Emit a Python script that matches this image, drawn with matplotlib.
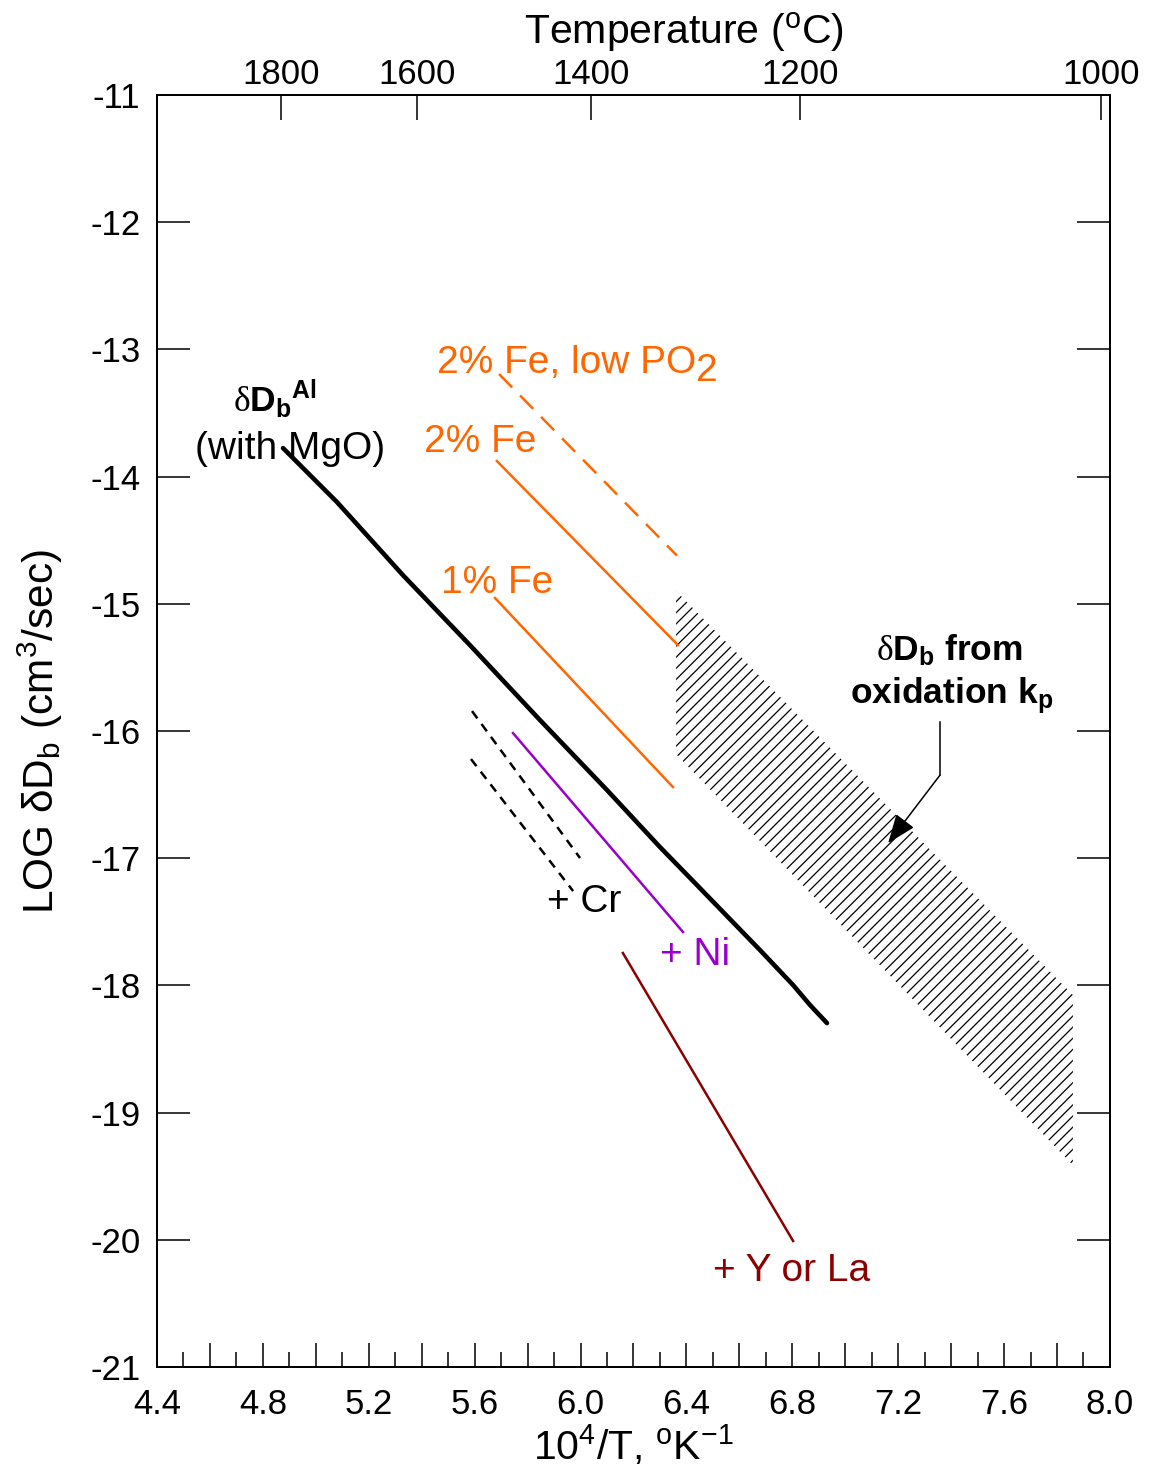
import numpy as np
import matplotlib
matplotlib.use("Agg")
import matplotlib.pyplot as plt

plt.rcParams['font.family'] = ['Liberation Sans', 'DejaVu Sans']
plt.rcParams['mathtext.fontset'] = 'custom'
plt.rcParams['mathtext.rm'] = 'Liberation Serif'
plt.rcParams['mathtext.sf'] = 'Liberation Sans'
plt.rcParams['mathtext.bf'] = 'Liberation Sans:bold'
plt.rcParams['mathtext.it'] = 'Liberation Sans:italic'
plt.rcParams['axes.unicode_minus'] = False
plt.rcParams['hatch.linewidth'] = 0.9

# --- data (x = 10^4/T, y = LOG dDb) ---
al_x = [4.876, 5.080, 5.329, 5.582, 5.847, 6.100, 6.300, 6.425, 6.553, 6.678, 6.803, 6.867, 6.931]
al_y = [-13.775, -14.200, -14.774, -15.324, -15.914, -16.464, -16.912, -17.179, -17.454, -17.722,
        -17.997, -18.154, -18.296]

fe2_low_x = [5.692, 6.364]
fe2_low_y = [-13.193, -14.620]
fe2_x = [5.684, 6.368]
fe2_y = [-13.877, -15.324]
fe1_x = [5.677, 6.349]
fe1_y = [-14.954, -16.440]

ni_x = [5.745, 6.387]
ni_y = [-16.016, -17.580]

cr_upper_x = [5.590, 5.998]
cr_upper_y = [-15.843, -16.998]
cr_lower_x = [5.586, 5.972]
cr_lower_y = [-16.220, -17.258]

yla_x = [6.160, 6.803]
yla_y = [-17.745, -20.009]

# oxidation kp band (hatched)
kp_x = [6.361, 7.860, 7.860, 6.361]
kp_y = [-14.899, -18.075, -19.412, -16.181]

# arrow from label to band: top, bend, tip
arrow_x = [7.358, 7.358, 7.162]
arrow_y = [-15.929, -16.346, -16.881]

xticks = [4.4, 4.6, 4.8, 5.0, 5.2, 5.4, 5.6, 5.8, 6.0, 6.2, 6.4, 6.6, 6.8, 7.0, 7.2, 7.4, 7.6, 7.8, 8.0]
xtick_labels = ['4.4', '', '4.8', '', '5.2', '', '5.6', '', '6.0', '', '6.4', '', '6.8', '', '7.2', '', '7.6', '', '8.0']
yticks = [-21, -20, -19, -18, -17, -16, -15, -14, -13, -12, -11]
temp_pos = [4.868, 5.382, 6.040, 6.829, 7.966]
temp_labels = ['1800', '1600', '1400', '1200', '1000']

ORANGE = '#FF6600'
PURPLE = '#9900CC'
DARKRED = '#8B0000'

fig = plt.figure(figsize=(11.63, 14.79), dpi=100)
ax = fig.add_axes([0.135, 0.0757, 0.8194, 0.8600])

ax.plot(al_x, al_y, color='black', lw=3.3, solid_capstyle='round', solid_joinstyle='round')
ax.plot(fe2_low_x, fe2_low_y, color=ORANGE, lw=1.8, linestyle=(0, (7.5, 4.5)))
ax.plot(fe2_x, fe2_y, color=ORANGE, lw=1.8)
ax.plot(fe1_x, fe1_y, color=ORANGE, lw=1.8)
ax.plot(ni_x, ni_y, color=PURPLE, lw=1.8)
ax.plot(cr_upper_x, cr_upper_y, color='black', lw=1.8, linestyle=(0, (3.6, 2.8)))
ax.plot(cr_lower_x, cr_lower_y, color='black', lw=1.8, linestyle=(0, (3.6, 2.8)))
ax.plot(yla_x, yla_y, color=DARKRED, lw=1.8)

ax.fill(kp_x, kp_y, facecolor='none', edgecolor='black', hatch='///', linewidth=0)

ax.plot(arrow_x[:2], arrow_y[:2], color='black', lw=1.1)
ax.annotate('', xy=(arrow_x[2], arrow_y[2]), xytext=(arrow_x[1], arrow_y[1]),
            arrowprops=dict(arrowstyle='-|>,head_length=0.9,head_width=0.35',
                            color='black', lw=1.1, mutation_scale=20,
                            shrinkA=0, shrinkB=0))

# labels
fs = 28
t = ax.text(5.458, -13.186, '2% Fe, low PO', color=ORANGE, fontsize=fs, va='baseline')
ax.annotate('2', xy=(1, 0), xycoords=t, xytext=(0, -6), textcoords='offset points',
            color=ORANGE, fontsize=fs, va='bottom', ha='left')
ax.text(5.409, -13.807, '2% Fe', color=ORANGE, fontsize=fs, va='baseline')
ax.text(5.473, -14.915, '1% Fe', color=ORANGE, fontsize=fs, va='baseline')
ax.text(5.873, -17.423, '+ Cr', color='black', fontsize=fs, va='baseline')
ax.text(6.300, -17.840, '+ Ni', color=PURPLE, fontsize=fs, va='baseline')
ax.text(6.500, -20.324, '+ Y or La', color=DARKRED, fontsize=fs, va='baseline')

ax.text(4.846, -13.484, r'$\mathrm{\delta}$D$_\mathbf{b}$$^\mathbf{Al}$', fontsize=25.5,
        fontweight='bold', ha='center', va='baseline')
ax.text(4.902, -13.862, '(with MgO)', fontsize=fs, ha='center', va='baseline')
ax.text(7.392, -15.442, r'$\mathrm{\delta}$D$_\mathbf{b}$ from', fontsize=25.5,
        fontweight='bold', ha='center', va='baseline')
ax.text(7.400, -15.780, r'oxidation k$_\mathbf{p}$', fontsize=25.5,
        fontweight='bold', ha='center', va='baseline')

# axes
ax.set_xlim(4.4, 8.0)
ax.set_ylim(-21, -11)
ax.set_xticks(xticks, xtick_labels)
ax.set_xticks(np.arange(4.5, 8.0, 0.2), minor=True)
ax.set_yticks(yticks, [str(v) for v in yticks])
ax.tick_params(axis='x', which='major', direction='in', length=17, width=1.1,
               labelsize=25, pad=15)
ax.tick_params(axis='x', which='minor', direction='in', length=11, width=1.1)
ax.tick_params(axis='y', which='major', direction='in', length=24, width=1.1,
               labelsize=25, pad=12, right=True)
for s in ax.spines.values():
    s.set_linewidth(1.4)

ax.set_xlabel(r'10$^\mathsf{4}$/T, $^\mathsf{o}$K$^\mathsf{-1}$', fontsize=29.5)
ax.xaxis.set_label_coords(0.5, -0.044)
ax.set_ylabel(r'LOG δD$_\mathsf{b}$ (cm$^\mathsf{3}$/sec)', fontsize=30.5)
ax.yaxis.set_label_coords(-0.097, 0.5)

ax2 = ax.twiny()
ax2.set_xlim(ax.get_xlim())
ax2.set_xticks(temp_pos, temp_labels)
ax2.tick_params(axis='x', direction='in', length=18, width=1.1, labelsize=25, pad=3)
ax2.set_xlabel(r'Temperature ($^\mathsf{o}$C)', fontsize=29.5)
ax2.xaxis.set_label_coords(0.553, 1.041)
for s in ax2.spines.values():
    s.set_linewidth(1.4)

fig.savefig('out.png', dpi=100)
